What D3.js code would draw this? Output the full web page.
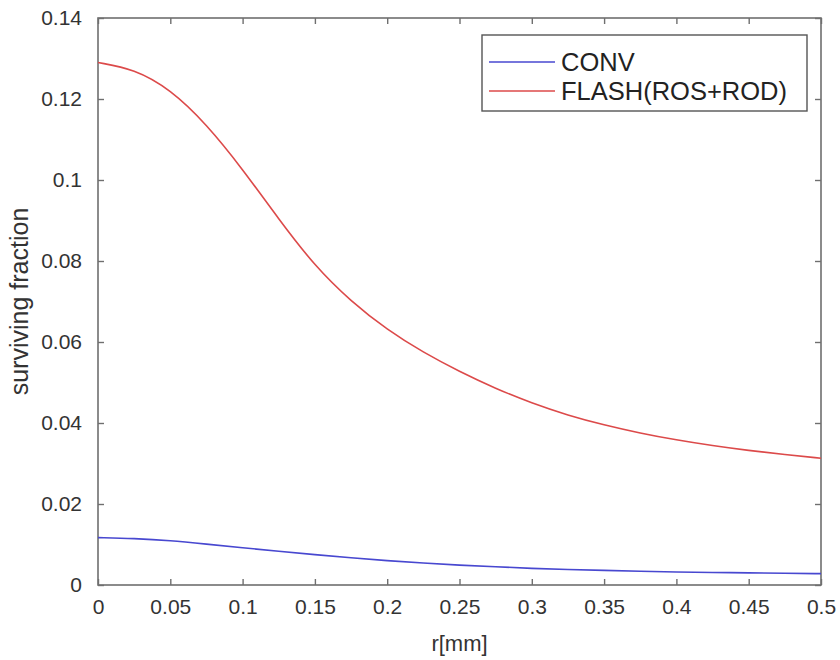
<!DOCTYPE html>
<html>
<head>
<meta charset="utf-8">
<script src="https://cdn.jsdelivr.net/npm/d3@7"></script>
<style>
  html, body { margin: 0; padding: 0; background: #fff; }
  svg { display: block; font-family: "Liberation Sans", Arial, Helvetica, sans-serif; }
</style>
</head>
<body>
<svg id="chart" width="840" height="660"></svg>
<script>
// ---- data ----
const rValues = [0, 0.025, 0.05, 0.075, 0.1, 0.125, 0.15, 0.175, 0.2, 0.225, 0.25,
                 0.275, 0.3, 0.325, 0.35, 0.375, 0.4, 0.425, 0.45, 0.475, 0.5];
const convValues = [0.0117, 0.0115, 0.0110, 0.0101, 0.0092, 0.0083, 0.0075, 0.0067, 0.0060, 0.0054, 0.0049,
                    0.0045, 0.0041, 0.0038, 0.0036, 0.0034, 0.0032, 0.0031, 0.0030, 0.0029, 0.0028];
const flashValues = [0.1290, 0.1274, 0.1224, 0.1138, 0.1027, 0.0903, 0.0787, 0.0700, 0.0630, 0.0574, 0.0527,
                     0.0485, 0.0449, 0.0419, 0.0395, 0.0375, 0.0358, 0.0344, 0.0332, 0.0322, 0.0313];
const seriesNames = ["CONV", "FLASH(ROS+ROD)"];
const seriesColors = ["#4848d0", "#dc4a4a"];
const xTicks = [0, 0.05, 0.1, 0.15, 0.2, 0.25, 0.3, 0.35, 0.4, 0.45, 0.5];
const xTickLabels = ["0", "0.05", "0.1", "0.15", "0.2", "0.25", "0.3", "0.35", "0.4", "0.45", "0.5"];
const yTicks = [0, 0.02, 0.04, 0.06, 0.08, 0.1, 0.12, 0.14];
const yTickLabels = ["0", "0.02", "0.04", "0.06", "0.08", "0.1", "0.12", "0.14"];
const xLabel = "r[mm]";
const yLabel = "surviving fraction";

// ---- layout ----
const svg = d3.select("#chart");
const L = 98, R = 821, T = 18, B = 585;
const x = d3.scaleLinear().domain([0, 0.5]).range([L, R]);
const y = d3.scaleLinear().domain([0, 0.14]).range([B, T]);
const axisColor = "#6f6f6f";
const textColor = "#333333";
const tickLen = 6;

// box
svg.append("rect").attr("x", L).attr("y", T).attr("width", R - L).attr("height", B - T)
  .attr("fill", "none").attr("stroke", axisColor).attr("stroke-width", 1.6);

// axes with inward ticks
const xAxisB = d3.axisBottom(x).tickValues(xTicks).tickFormat((d, i) => xTickLabels[i])
  .tickSizeInner(-tickLen).tickSizeOuter(0).tickPadding(14);
const xAxisT = d3.axisTop(x).tickValues(xTicks).tickFormat("")
  .tickSizeInner(-tickLen).tickSizeOuter(0);
const yAxisL = d3.axisLeft(y).tickValues(yTicks).tickFormat((d, i) => yTickLabels[i])
  .tickSizeInner(-tickLen).tickSizeOuter(0).tickPadding(16);
const yAxisR = d3.axisRight(y).tickValues(yTicks).tickFormat("")
  .tickSizeInner(-tickLen).tickSizeOuter(0);

function style(g) {
  g.select(".domain").remove();
  g.selectAll(".tick line").attr("stroke", axisColor).attr("stroke-width", 1.4);
  g.selectAll(".tick text").attr("fill", textColor).style("font-size", "21px")
    .style("font-family", "'Liberation Sans', Arial, sans-serif");
}
svg.append("g").attr("transform", `translate(0,${B})`).call(xAxisB).call(style);
svg.append("g").attr("transform", `translate(0,${T})`).call(xAxisT).call(style);
svg.append("g").attr("transform", `translate(${L},0)`).call(yAxisL).call(style);
svg.append("g").attr("transform", `translate(${R},0)`).call(yAxisR).call(style);

// lines
const line = d3.line().x(d => x(d[0])).y(d => y(d[1])).curve(d3.curveBasis);
[convValues, flashValues].forEach((vals, i) => {
  svg.append("path")
    .datum(rValues.map((r, j) => [r, vals[j]]))
    .attr("fill", "none").attr("stroke", seriesColors[i]).attr("stroke-width", 1.6)
    .attr("d", line);
});

// axis labels
svg.append("text").attr("x", (L + R) / 2).attr("y", 651).attr("text-anchor", "middle")
  .attr("fill", textColor).style("font-size", "22px").text(xLabel);
svg.append("text").attr("transform", `translate(28,${(T + B) / 2}) rotate(-90)`)
  .attr("text-anchor", "middle").attr("fill", textColor).style("font-size", "25px").text(yLabel);

// legend
const lg = svg.append("g");
lg.append("rect").attr("x", 482).attr("y", 35).attr("width", 325).attr("height", 76)
  .attr("fill", "#fff").attr("stroke", "#555").attr("stroke-width", 1.4);
seriesNames.forEach((name, i) => {
  const cy = 62 + i * 29;
  lg.append("line").attr("x1", 489).attr("x2", 555).attr("y1", cy).attr("y2", cy)
    .attr("stroke", seriesColors[i]).attr("stroke-width", 1.6);
  lg.append("text").attr("x", 561).attr("y", cy + 8.5).attr("fill", "#222")
    .style("font-size", "25.5px").text(name);
});
</script>
</body>
</html>
